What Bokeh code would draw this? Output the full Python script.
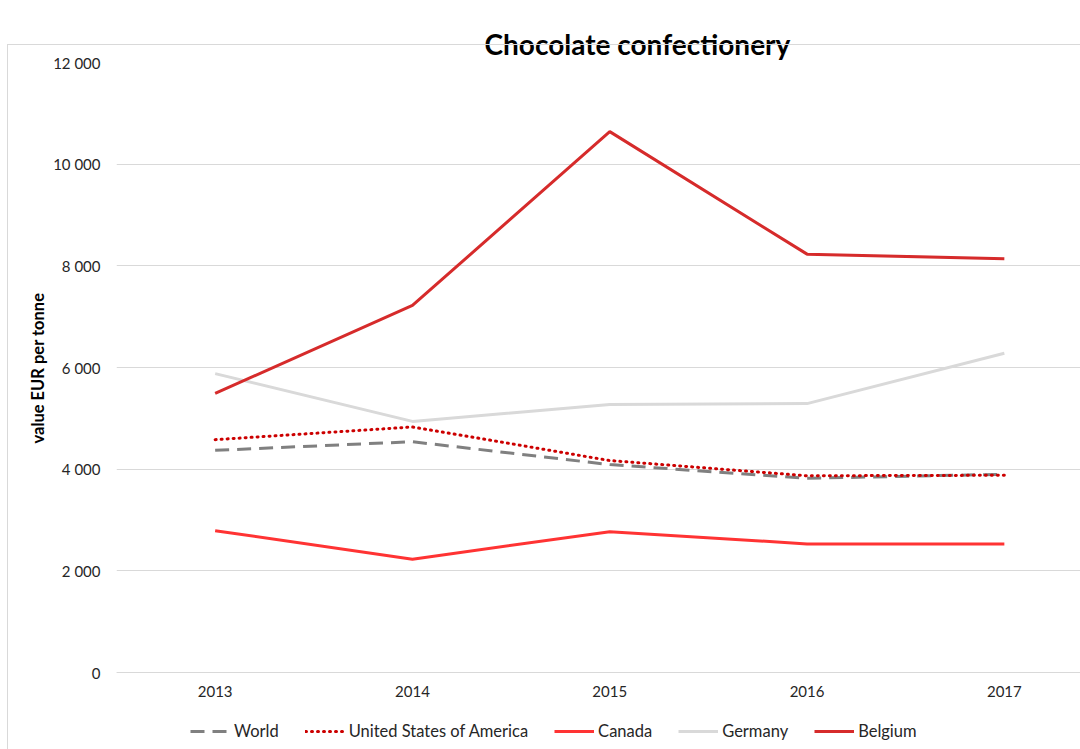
from bokeh.plotting import figure
from bokeh.models import (Range1d, FixedTicker, Legend, LegendItem, InlineStyleSheet,
                          Title, LinearAxis)
from bokeh.embed import file_html
from bokeh.resources import INLINE

# Average unit value of chocolate confectionery, EUR per tonne
years = [2013, 2014, 2015, 2016, 2017]
world = [4370, 4540, 4090, 3820, 3900]
usa = [4580, 4830, 4170, 3870, 3880]
canada = [2790, 2230, 2770, 2530, 2530]
germany = [5880, 4940, 5270, 5290, 6280]
belgium = [5490, 7220, 10640, 8230, 8140]

y_ticks = [0, 2000, 4000, 6000, 8000, 10000, 12000]

FONT = "Lato"
W, H = 1080, 749
LEFT, TOP = 116, 62
STEP = 197.3           # pixels per year
UNITS_PER_PX = 12000 / 610
BELOW = 77             # room under the zero line for year labels and legend

p = figure(width=W, height=H, output_backend="svg", toolbar_location=None,
           x_range=Range1d(years[0] - 0.5, years[0] - 0.5 + (W - LEFT) / STEP),
           y_range=Range1d(-BELOW * UNITS_PER_PX, 12000),
           min_border_left=LEFT, min_border_right=0,
           min_border_top=TOP, min_border_bottom=0)
p.outline_line_color = None
p.background_fill_color = "white"
p.border_fill_color = "white"

# light frame around the chart area (left and top edges fall inside the page)
p.stylesheets = [InlineStyleSheet(css="""
:host { position: relative; }
:host::after {
  content: ""; position: absolute; pointer-events: none;
  left: 7px; top: 44px; width: 1200px; height: 900px;
  border: 1.5px solid #d9d9d9; box-sizing: border-box;
}
""")]

# axes: the year axis sits on the zero line
xaxis = p.xaxis[0]
yaxis = p.yaxis[0]
xaxis.ticker = FixedTicker(ticks=years)
xaxis.fixed_location = 0
yaxis.ticker = FixedTicker(ticks=y_ticks)
yaxis.major_label_overrides = {t: f"{t:,}".replace(",", " ") for t in y_ticks}
for ax in (xaxis, yaxis):
    ax.axis_line_color = None
    ax.major_tick_line_color = None
    ax.minor_tick_line_color = None
    ax.major_tick_in = 0
    ax.major_tick_out = 0
    ax.major_label_text_font = FONT
    ax.major_label_text_font_size = "15px"
    ax.major_label_text_color = "#262626"
xaxis.axis_line_color = "#d9d9d9"
yaxis.major_label_standoff = 16
xaxis.major_label_standoff = 13

title = Title(text="Chocolate confectionery", text_font=FONT,
              text_font_size="28px", text_font_style="bold",
              text_color="black", align="left", offset=368, standoff=4)
p.add_layout(title, "above")

# blank strip between the title and the plot area
gap = LinearAxis(ticker=FixedTicker(ticks=[]), axis_line_color=None,
                 major_tick_line_color=None, minor_tick_line_color=None,
                 major_tick_in=0, major_tick_out=23, minor_tick_out=0,
                 major_label_standoff=0)
p.add_layout(gap, "above")

# vertical value-axis caption
ytitle = Title(text="value EUR per tonne", text_font=FONT,
               text_font_size="16.5px", text_font_style="bold",
               text_color="black", align="left", offset=306, standoff=6)
p.add_layout(ytitle, "left")

p.xgrid.grid_line_color = None
p.ygrid.grid_line_color = "#d9d9d9"
p.ygrid.grid_line_width = 1

# series
r_world = p.line(years, world, line_color="#808080", line_width=3,
                 line_dash="14 8")
r_usa = p.line(years, usa, line_color="#cc0000", line_width=3,
               line_dash="1 5", line_cap="round")
r_can = p.line(years, canada, line_color="#ff3333", line_width=3)
r_ger = p.line(years, germany, line_color="#d9d9d9", line_width=3)
r_bel = p.line(years, belgium, line_color="#d62b2b", line_width=3)

legend = Legend(items=[
    LegendItem(label="World", renderers=[r_world]),
    LegendItem(label="United States of America", renderers=[r_usa]),
    LegendItem(label="Canada", renderers=[r_can]),
    LegendItem(label="Germany", renderers=[r_ger]),
    LegendItem(label="Belgium", renderers=[r_bel]),
], orientation="horizontal", location=(74, 8))
legend.label_text_font = FONT
legend.label_text_font_size = "16.5px"
legend.label_text_color = "#262626"
legend.glyph_width = 40
legend.label_standoff = 4
legend.spacing = 26
legend.padding = 8
legend.margin = 0
legend.border_line_color = None
legend.background_fill_alpha = 0
p.add_layout(legend, "center")

open("out.html", "w").write(file_html(p, INLINE))
